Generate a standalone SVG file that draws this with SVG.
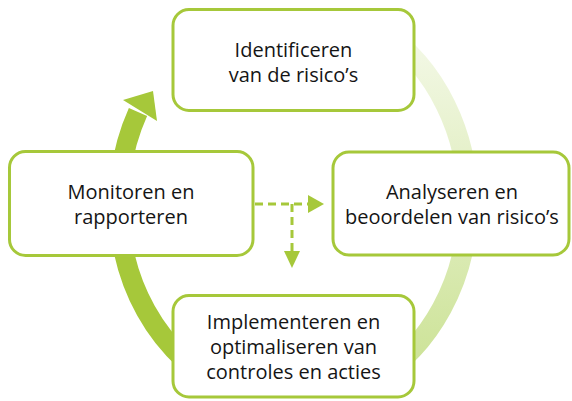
<svg xmlns="http://www.w3.org/2000/svg" width="572" height="401" viewBox="0 0 572 401">
<style>
.box{fill:#fff;stroke:#a6c83a;stroke-width:3}
.t{font-family:"Open Sans","Liberation Sans",sans-serif;font-size:20px;font-weight:500;fill:#151515;text-anchor:middle}
.dash{fill:none;stroke:#a6c83a;stroke-width:3;stroke-dasharray:8 5}
.head{fill:#a6c83a}
</style>
<defs>
<linearGradient id="pale" gradientUnits="userSpaceOnUse" x1="0" y1="40" x2="0" y2="380">
<stop offset="0" stop-color="#f3f8e6"/>
<stop offset="1" stop-color="#cbe294"/>
</linearGradient>
</defs>
<rect width="572" height="401" fill="#fff"/>
<g id="connectors">
<path d="M 381 30 A 175 200 0 0 1 374.4 380" fill="none" stroke="url(#pale)" stroke-width="20"/>
<path d="M 184.7 360 A 175 200 0 0 1 138 112" fill="none" stroke="#a6c83a" stroke-width="20"/>
<polygon class="head" points="123,100 153,91 157,121"/>
<path class="dash" d="M 255 204 H 310"/>
<polygon class="head" points="308,195 324,204 308,213"/>
<path class="dash" d="M 292 204 V 252"/>
<polygon class="head" points="284,251 292,268 300,251"/>
</g>
<g id="node-identificeren">
<rect class="box" x="173" y="9.5" width="241" height="101" rx="16"/>
<text class="t" x="293.5" y="57">Identificeren</text>
<text class="t" x="293.5" y="82">van de risico’s</text>
</g>
<g id="node-monitoren">
<rect class="box" x="9.5" y="151.5" width="243.5" height="104" rx="16"/>
<text class="t" x="131" y="199">Monitoren en</text>
<text class="t" x="131" y="224">rapporteren</text>
</g>
<g id="node-analyseren">
<rect class="box" x="333" y="152" width="236" height="103" rx="16"/>
<text class="t" x="452" y="199">Analyseren en</text>
<text class="t" x="452" y="224">beoordelen van risico’s</text>
</g>
<g id="node-implementeren">
<rect class="box" x="173" y="295.5" width="241" height="101.5" rx="16"/>
<text class="t" x="293.5" y="329">Implementeren en</text>
<text class="t" x="293.5" y="354">optimaliseren van</text>
<text class="t" x="293.5" y="379">controles en acties</text>
</g>
</svg>
